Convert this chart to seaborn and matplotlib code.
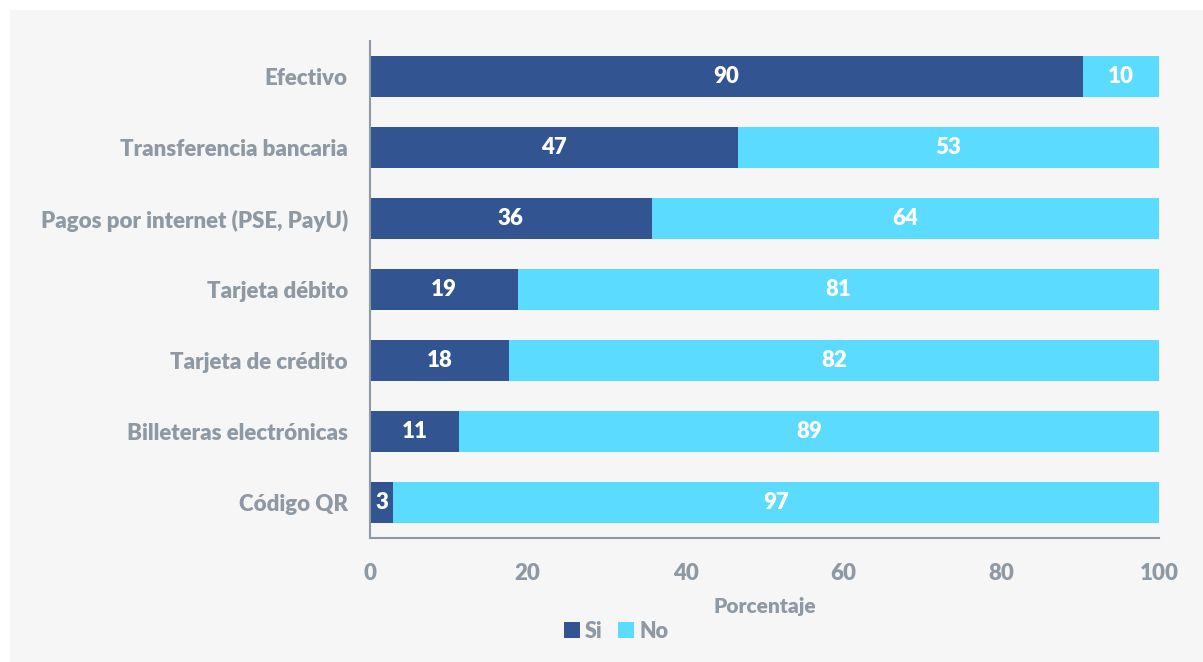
import matplotlib
matplotlib.use("Agg")
import matplotlib.pyplot as plt
from matplotlib.patches import Rectangle, Patch
import seaborn as sns
import pandas as pd

categories = ["Efectivo", "Transferencia bancaria", "Pagos por internet (PSE, PayU)",
              "Tarjeta débito", "Tarjeta de crédito", "Billeteras electrónicas", "Código QR"]
si = [90.4, 46.6, 35.7, 18.8, 17.6, 11.3, 2.9]
no = [9.6, 53.4, 64.3, 81.2, 82.4, 88.7, 97.1]
x_ticks = [0, 20, 40, 60, 80, 100]

DARK = "#325591"
LIGHT = "#5BDBFF"
GRAY = "#8E99A3"
PANEL = "#F6F6F6"

sns.set_theme(style="white")
plt.rcParams["font.family"] = ["Lato", "DejaVu Sans"]
plt.rcParams["font.weight"] = "bold"

W, H = 1203, 662
fig = plt.figure(figsize=(W / 100, H / 100), dpi=100, facecolor="white")
fig.patches.append(Rectangle((10 / W, 0), 1 - 10 / W, 1 - 10 / H, transform=fig.transFigure,
                             facecolor=PANEL, edgecolor="none", zorder=-10))
ax = fig.add_axes([370 / W, 1 - 538 / H, (1159 - 370) / W, (538 - 41) / H])
ax.set_facecolor("none")

df = pd.DataFrame({"cat": categories, "si": si, "no": no})
df["total"] = df["si"] + df["no"]

sns.barplot(data=df, y="cat", x="total", color=LIGHT, saturation=1, width=0.58,
            edgecolor="none", linewidth=0, ax=ax)
sns.barplot(data=df, y="cat", x="si", color=DARK, saturation=1, width=0.58,
            edgecolor="none", linewidth=0, ax=ax)

fs = 16
WT = "heavy"
for i in range(len(categories)):
    ax.text(si[i] / 2, i, f"{round(si[i])}", ha="center", va="center", color="white",
            fontsize=fs, fontweight=WT)
    ax.text(si[i] + no[i] / 2, i, f"{round(no[i])}", ha="center", va="center", color="white",
            fontsize=fs, fontweight=WT)

ax.set_xlim(0, 100)
ax.set_ylim(6.5, -0.5)
ax.set_xticks(x_ticks)
ax.set_xticklabels([str(t) for t in x_ticks])
ax.set_ylabel("")
ax.set_xlabel("Porcentaje", color=GRAY, fontsize=fs - 1, fontweight=WT, labelpad=9)
for s in ["top", "right"]:
    ax.spines[s].set_visible(False)
for s in ["left", "bottom"]:
    ax.spines[s].set_color(GRAY)
    ax.spines[s].set_linewidth(1.5)
ax.tick_params(axis="x", direction="in", length=7, width=1.2, color=GRAY, labelcolor=GRAY,
               labelsize=fs, pad=18)
ax.tick_params(axis="y", length=0, labelcolor=GRAY, labelsize=fs, pad=16)
for lab in ax.get_xticklabels() + ax.get_yticklabels():
    lab.set_fontweight(WT)

handles = [Patch(facecolor=DARK, edgecolor="none", label="Si"),
           Patch(facecolor=LIGHT, edgecolor="none", label="No")]
leg = fig.legend(handles=handles, loc="center", bbox_to_anchor=(616 / W, 1 - 631 / H), ncol=2,
                 frameon=False, handlelength=0.75, handleheight=0.75, handletextpad=0.25,
                 columnspacing=0.7, fontsize=fs - 0.5)
for t in leg.get_texts():
    t.set_color(GRAY)
    t.set_fontweight(WT)

fig.savefig("out.png", dpi=100, facecolor="white")
